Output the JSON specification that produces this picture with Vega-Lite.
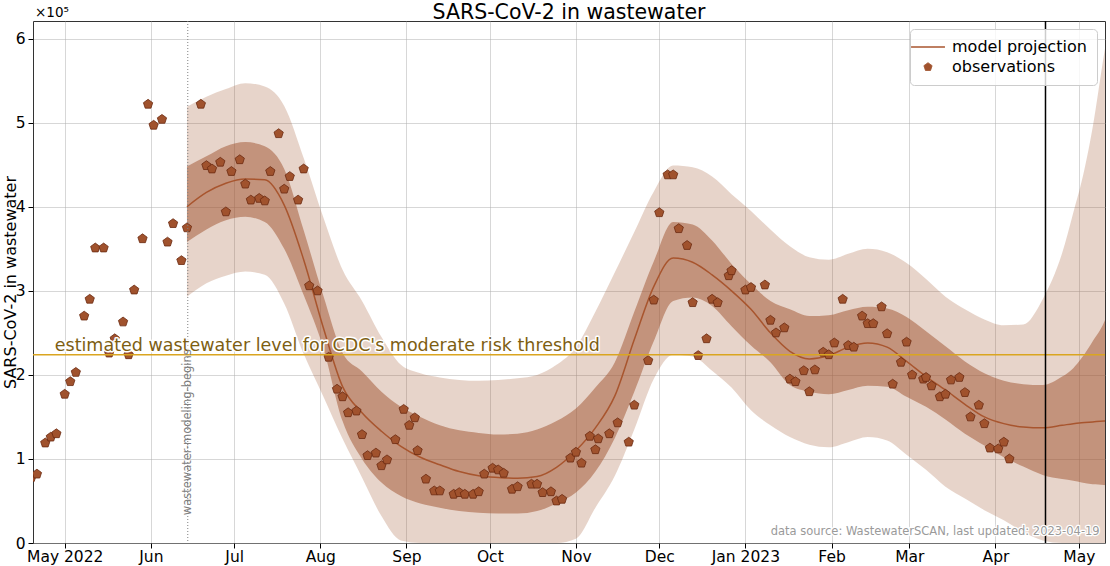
{
  "$schema": "https://vega.github.io/schema/vega-lite/v6.json",
  "width": 1072,
  "height": 522,
  "autosize": {"type": "none"},
  "padding": {"left": 33, "top": 21, "right": 5, "bottom": 23},
  "datasets": {
    "obs": [
      {"date": "2022-04-19", "v": 0.78}, {"date": "2022-04-21", "v": 0.82}, {"date": "2022-04-24", "v": 1.19}, {"date": "2022-04-26", "v": 1.26},
      {"date": "2022-04-28", "v": 1.30}, {"date": "2022-05-01", "v": 1.77}, {"date": "2022-05-03", "v": 1.92}, {"date": "2022-05-05", "v": 2.03},
      {"date": "2022-05-08", "v": 2.70}, {"date": "2022-05-10", "v": 2.90}, {"date": "2022-05-12", "v": 3.51}, {"date": "2022-05-15", "v": 3.51},
      {"date": "2022-05-17", "v": 2.26}, {"date": "2022-05-19", "v": 2.43}, {"date": "2022-05-22", "v": 2.63}, {"date": "2022-05-24", "v": 2.24},
      {"date": "2022-05-26", "v": 3.01}, {"date": "2022-05-29", "v": 3.62}, {"date": "2022-05-31", "v": 5.22}, {"date": "2022-06-02", "v": 4.97},
      {"date": "2022-06-05", "v": 5.04}, {"date": "2022-06-07", "v": 3.58}, {"date": "2022-06-09", "v": 3.80}, {"date": "2022-06-12", "v": 3.36},
      {"date": "2022-06-14", "v": 3.75}, {"date": "2022-06-19", "v": 5.22}, {"date": "2022-06-21", "v": 4.49}, {"date": "2022-06-23", "v": 4.45},
      {"date": "2022-06-26", "v": 4.53}, {"date": "2022-06-28", "v": 3.94}, {"date": "2022-06-30", "v": 4.42}, {"date": "2022-07-03", "v": 4.56},
      {"date": "2022-07-05", "v": 4.27}, {"date": "2022-07-07", "v": 4.08}, {"date": "2022-07-10", "v": 4.10}, {"date": "2022-07-12", "v": 4.07},
      {"date": "2022-07-14", "v": 4.42}, {"date": "2022-07-17", "v": 4.87}, {"date": "2022-07-19", "v": 4.21}, {"date": "2022-07-21", "v": 4.36},
      {"date": "2022-07-24", "v": 4.08}, {"date": "2022-07-26", "v": 4.45}, {"date": "2022-07-28", "v": 3.06}, {"date": "2022-07-31", "v": 3.00},
      {"date": "2022-08-04", "v": 2.21}, {"date": "2022-08-07", "v": 1.83}, {"date": "2022-08-09", "v": 1.74}, {"date": "2022-08-11", "v": 1.55},
      {"date": "2022-08-14", "v": 1.57}, {"date": "2022-08-16", "v": 1.29}, {"date": "2022-08-18", "v": 1.04}, {"date": "2022-08-21", "v": 1.07},
      {"date": "2022-08-23", "v": 0.92}, {"date": "2022-08-25", "v": 0.99}, {"date": "2022-08-28", "v": 1.23}, {"date": "2022-08-31", "v": 1.59},
      {"date": "2022-09-02", "v": 1.40}, {"date": "2022-09-04", "v": 1.49}, {"date": "2022-09-05", "v": 1.10}, {"date": "2022-09-08", "v": 0.76},
      {"date": "2022-09-11", "v": 0.62}, {"date": "2022-09-13", "v": 0.62}, {"date": "2022-09-18", "v": 0.58}, {"date": "2022-09-20", "v": 0.60},
      {"date": "2022-09-22", "v": 0.58}, {"date": "2022-09-25", "v": 0.58}, {"date": "2022-09-27", "v": 0.61}, {"date": "2022-09-29", "v": 0.82},
      {"date": "2022-10-02", "v": 0.89}, {"date": "2022-10-04", "v": 0.87}, {"date": "2022-10-06", "v": 0.83}, {"date": "2022-10-09", "v": 0.64},
      {"date": "2022-10-11", "v": 0.67}, {"date": "2022-10-16", "v": 0.70}, {"date": "2022-10-18", "v": 0.70}, {"date": "2022-10-20", "v": 0.60},
      {"date": "2022-10-23", "v": 0.61}, {"date": "2022-10-25", "v": 0.50}, {"date": "2022-10-27", "v": 0.52}, {"date": "2022-10-30", "v": 1.01},
      {"date": "2022-11-01", "v": 1.08}, {"date": "2022-11-03", "v": 0.95}, {"date": "2022-11-06", "v": 1.27}, {"date": "2022-11-08", "v": 1.11},
      {"date": "2022-11-09", "v": 1.24}, {"date": "2022-11-13", "v": 1.30}, {"date": "2022-11-16", "v": 1.43}, {"date": "2022-11-20", "v": 1.20},
      {"date": "2022-11-22", "v": 1.64}, {"date": "2022-11-27", "v": 2.17}, {"date": "2022-11-29", "v": 2.89}, {"date": "2022-12-01", "v": 3.93},
      {"date": "2022-12-04", "v": 4.38}, {"date": "2022-12-06", "v": 4.38}, {"date": "2022-12-08", "v": 3.74}, {"date": "2022-12-11", "v": 3.54},
      {"date": "2022-12-13", "v": 2.86}, {"date": "2022-12-15", "v": 2.23}, {"date": "2022-12-18", "v": 2.43}, {"date": "2022-12-20", "v": 2.90},
      {"date": "2022-12-22", "v": 2.86}, {"date": "2022-12-26", "v": 3.18}, {"date": "2022-12-27", "v": 3.24}, {"date": "2023-01-01", "v": 3.01},
      {"date": "2023-01-03", "v": 3.04}, {"date": "2023-01-08", "v": 3.07}, {"date": "2023-01-10", "v": 2.65}, {"date": "2023-01-12", "v": 2.50},
      {"date": "2023-01-15", "v": 2.56}, {"date": "2023-01-17", "v": 1.95}, {"date": "2023-01-19", "v": 1.92}, {"date": "2023-01-22", "v": 2.05},
      {"date": "2023-01-24", "v": 1.80}, {"date": "2023-01-26", "v": 2.06}, {"date": "2023-01-29", "v": 2.27}, {"date": "2023-01-31", "v": 2.24},
      {"date": "2023-02-02", "v": 2.38}, {"date": "2023-02-05", "v": 2.90}, {"date": "2023-02-07", "v": 2.35}, {"date": "2023-02-09", "v": 2.33},
      {"date": "2023-02-12", "v": 2.70}, {"date": "2023-02-14", "v": 2.61}, {"date": "2023-02-16", "v": 2.61}, {"date": "2023-02-19", "v": 2.81},
      {"date": "2023-02-21", "v": 2.49}, {"date": "2023-02-23", "v": 1.89}, {"date": "2023-02-26", "v": 2.15}, {"date": "2023-02-28", "v": 2.39},
      {"date": "2023-03-02", "v": 2.00}, {"date": "2023-03-06", "v": 1.95}, {"date": "2023-03-07", "v": 1.97}, {"date": "2023-03-09", "v": 1.87},
      {"date": "2023-03-12", "v": 1.74}, {"date": "2023-03-14", "v": 1.77}, {"date": "2023-03-16", "v": 1.94}, {"date": "2023-03-19", "v": 1.97},
      {"date": "2023-03-21", "v": 1.79}, {"date": "2023-03-23", "v": 1.50}, {"date": "2023-03-26", "v": 1.64}, {"date": "2023-03-28", "v": 1.42},
      {"date": "2023-03-30", "v": 1.13}, {"date": "2023-04-02", "v": 1.12}, {"date": "2023-04-04", "v": 1.20}, {"date": "2023-04-06", "v": 1.00}
    ],
    "model": [
      {"date": "2022-06-14", "lo90": 2.93, "lo50": 3.58, "median": 4.00, "hi50": 4.48, "hi90": 5.19},
      {"date": "2022-06-21", "lo90": 3.09, "lo50": 3.73, "median": 4.17, "hi50": 4.60, "hi90": 5.31},
      {"date": "2022-06-28", "lo90": 3.18, "lo50": 3.84, "median": 4.28, "hi50": 4.72, "hi90": 5.40},
      {"date": "2022-07-05", "lo90": 3.23, "lo50": 3.88, "median": 4.33, "hi50": 4.77, "hi90": 5.47},
      {"date": "2022-07-12", "lo90": 3.19, "lo50": 3.82, "median": 4.32, "hi50": 4.72, "hi90": 5.43},
      {"date": "2022-07-19", "lo90": 2.85, "lo50": 3.50, "median": 4.02, "hi50": 4.45, "hi90": 5.20},
      {"date": "2022-07-26", "lo90": 2.25, "lo50": 2.95, "median": 3.37, "hi50": 3.72, "hi90": 4.58},
      {"date": "2022-08-02", "lo90": 1.75, "lo50": 2.33, "median": 2.57, "hi50": 2.95, "hi90": 3.88},
      {"date": "2022-08-09", "lo90": 1.24, "lo50": 1.45, "median": 1.86, "hi50": 2.26, "hi90": 3.25},
      {"date": "2022-08-16", "lo90": 0.78, "lo50": 1.00, "median": 1.55, "hi50": 2.04, "hi90": 2.88},
      {"date": "2022-08-23", "lo90": 0.32, "lo50": 0.72, "median": 1.33, "hi50": 1.80, "hi90": 2.45},
      {"date": "2022-08-30", "lo90": 0.03, "lo50": 0.56, "median": 1.15, "hi50": 1.62, "hi90": 2.12},
      {"date": "2022-09-06", "lo90": 0, "lo50": 0.47, "median": 1.02, "hi50": 1.50, "hi90": 2.02},
      {"date": "2022-09-13", "lo90": 0, "lo50": 0.42, "median": 0.93, "hi50": 1.40, "hi90": 1.97},
      {"date": "2022-09-20", "lo90": 0, "lo50": 0.38, "median": 0.85, "hi50": 1.34, "hi90": 1.94},
      {"date": "2022-09-27", "lo90": 0, "lo50": 0.36, "median": 0.80, "hi50": 1.31, "hi90": 1.93},
      {"date": "2022-10-04", "lo90": 0, "lo50": 0.35, "median": 0.78, "hi50": 1.29, "hi90": 1.94},
      {"date": "2022-10-11", "lo90": 0, "lo50": 0.35, "median": 0.77, "hi50": 1.30, "hi90": 1.96},
      {"date": "2022-10-18", "lo90": 0, "lo50": 0.38, "median": 0.79, "hi50": 1.35, "hi90": 2.00},
      {"date": "2022-10-25", "lo90": 0, "lo50": 0.47, "median": 0.90, "hi50": 1.45, "hi90": 2.12},
      {"date": "2022-11-01", "lo90": 0.05, "lo50": 0.60, "median": 1.10, "hi50": 1.60, "hi90": 2.33},
      {"date": "2022-11-08", "lo90": 0.42, "lo50": 0.85, "median": 1.37, "hi50": 1.85, "hi90": 2.75},
      {"date": "2022-11-15", "lo90": 0.80, "lo50": 1.25, "median": 1.75, "hi50": 2.15, "hi90": 3.22},
      {"date": "2022-11-22", "lo90": 1.35, "lo50": 1.80, "median": 2.42, "hi50": 2.75, "hi90": 3.70},
      {"date": "2022-11-29", "lo90": 1.95, "lo50": 2.40, "median": 3.05, "hi50": 3.35, "hi90": 4.18},
      {"date": "2022-12-06", "lo90": 2.24, "lo50": 2.88, "median": 3.39, "hi50": 3.82, "hi90": 4.49},
      {"date": "2022-12-13", "lo90": 2.22, "lo50": 2.92, "median": 3.34, "hi50": 3.79, "hi90": 4.47},
      {"date": "2022-12-20", "lo90": 2.05, "lo50": 2.82, "median": 3.19, "hi50": 3.60, "hi90": 4.36},
      {"date": "2022-12-27", "lo90": 1.85, "lo50": 2.58, "median": 3.00, "hi50": 3.32, "hi90": 4.15},
      {"date": "2023-01-03", "lo90": 1.58, "lo50": 2.35, "median": 2.78, "hi50": 3.08, "hi90": 3.95},
      {"date": "2023-01-10", "lo90": 1.40, "lo50": 2.15, "median": 2.50, "hi50": 2.88, "hi90": 3.73},
      {"date": "2023-01-17", "lo90": 1.26, "lo50": 1.88, "median": 2.28, "hi50": 2.78, "hi90": 3.53},
      {"date": "2023-01-24", "lo90": 1.17, "lo50": 1.80, "median": 2.19, "hi50": 2.70, "hi90": 3.40},
      {"date": "2023-01-31", "lo90": 1.14, "lo50": 1.77, "median": 2.23, "hi50": 2.71, "hi90": 3.37},
      {"date": "2023-02-07", "lo90": 1.20, "lo50": 1.82, "median": 2.33, "hi50": 2.77, "hi90": 3.44},
      {"date": "2023-02-14", "lo90": 1.26, "lo50": 1.87, "median": 2.38, "hi50": 2.81, "hi90": 3.50},
      {"date": "2023-02-21", "lo90": 1.22, "lo50": 1.86, "median": 2.33, "hi50": 2.79, "hi90": 3.46},
      {"date": "2023-02-28", "lo90": 1.05, "lo50": 1.74, "median": 2.16, "hi50": 2.69, "hi90": 3.33},
      {"date": "2023-03-07", "lo90": 0.87, "lo50": 1.62, "median": 1.98, "hi50": 2.52, "hi90": 3.14},
      {"date": "2023-03-14", "lo90": 0.67, "lo50": 1.47, "median": 1.82, "hi50": 2.34, "hi90": 2.93},
      {"date": "2023-03-21", "lo90": 0.53, "lo50": 1.30, "median": 1.65, "hi50": 2.16, "hi90": 2.78},
      {"date": "2023-03-28", "lo90": 0.39, "lo50": 1.16, "median": 1.50, "hi50": 2.02, "hi90": 2.66},
      {"date": "2023-04-04", "lo90": 0.27, "lo50": 1.02, "median": 1.42, "hi50": 1.93, "hi90": 2.59},
      {"date": "2023-04-11", "lo90": 0.13, "lo50": 0.91, "median": 1.38, "hi50": 1.89, "hi90": 2.60},
      {"date": "2023-04-18", "lo90": 0.03, "lo50": 0.81, "median": 1.37, "hi50": 1.88, "hi90": 2.90},
      {"date": "2023-04-25", "lo90": 0, "lo50": 0.76, "median": 1.40, "hi50": 1.98, "hi90": 3.45},
      {"date": "2023-04-29", "lo90": 0, "lo50": 0.74, "median": 1.42, "hi50": 2.08, "hi90": 3.93},
      {"date": "2023-05-02", "lo90": 0, "lo50": 0.72, "median": 1.43, "hi50": 2.20, "hi90": 4.30},
      {"date": "2023-05-06", "lo90": 0, "lo50": 0.70, "median": 1.44, "hi50": 2.40, "hi90": 4.95},
      {"date": "2023-05-10", "lo90": 0, "lo50": 0.69, "median": 1.45, "hi50": 2.62, "hi90": 5.80},
      {"date": "2023-05-11", "lo90": 0, "lo50": 0.68, "median": 1.45, "hi50": 2.70, "hi90": 6.00}
    ]
  },
  "layer": [
    {
      "data": {"name": "model"},
      "mark": {"type": "area", "interpolate": "monotone", "color": "#a0522d", "fillOpacity": 0.25, "clip": true},
      "encoding": {
        "x": {"field": "date", "type": "temporal", "title": null,
          "scale": {"domain": [{"year": 2022, "month": 4, "date": 19, "hours": 14}, {"year": 2023, "month": 5, "date": 10, "hours": 10}]},
          "axis": {
            "values": [
              {"year": 2022, "month": 5, "date": 1}, {"year": 2022, "month": 6, "date": 1}, {"year": 2022, "month": 7, "date": 1},
              {"year": 2022, "month": 8, "date": 1}, {"year": 2022, "month": 9, "date": 1}, {"year": 2022, "month": 10, "date": 1},
              {"year": 2022, "month": 11, "date": 1}, {"year": 2022, "month": 12, "date": 1}, {"year": 2023, "month": 1, "date": 1},
              {"year": 2023, "month": 2, "date": 1}, {"year": 2023, "month": 3, "date": 1}, {"year": 2023, "month": 4, "date": 1},
              {"year": 2023, "month": 5, "date": 1}
            ],
            "labelExpr": "(month(datum.value) == 0 || (month(datum.value) == 4 && year(datum.value) == 2022)) ? timeFormat(datum.value, '%b %Y') : timeFormat(datum.value, '%b')",
            "labelPadding": 1
          }
        },
        "y": {"field": "lo90", "type": "quantitative", "title": "SARS-CoV-2 in wastewater",
          "scale": {"domain": [0, 6.21], "nice": false, "zero": false},
          "axis": {"values": [0, 1, 2, 3, 4, 5, 6], "format": "d", "labelPadding": 3, "titlePadding": -3}
        },
        "y2": {"field": "hi90"}
      }
    },
    {
      "data": {"name": "model"},
      "mark": {"type": "area", "interpolate": "monotone", "color": "#a0522d", "fillOpacity": 0.5, "clip": true},
      "encoding": {
        "x": {"field": "date", "type": "temporal", "title": null},
        "y": {"field": "lo50", "type": "quantitative", "title": "SARS-CoV-2 in wastewater"},
        "y2": {"field": "hi50"}
      }
    },
    {
      "data": {"name": "model"},
      "mark": {"type": "line", "interpolate": "monotone", "strokeWidth": 1.5, "clip": true},
      "encoding": {
        "x": {"field": "date", "type": "temporal", "title": null},
        "y": {"field": "median", "type": "quantitative", "title": "SARS-CoV-2 in wastewater"},
        "color": {"datum": "model projection", "type": "nominal",
          "scale": {"domain": ["model projection", "observations"], "range": ["#a8552e", "#a0522d"]},
          "legend": {
            "title": null,
            "encode": {
              "symbols": {
                "update": {
                  "shape": {"signal": "datum.value === 'observations' ? 'M0,-1L0.951,-0.309L0.588,0.809L-0.588,0.809L-0.951,-0.309Z' : 'stroke'"},
                  "size": {"signal": "datum.value === 'observations' ? 75 : 1150"},
                  "fill": {"signal": "datum.value === 'observations' ? '#a0522d' : 'transparent'"},
                  "stroke": {"signal": "datum.value === 'observations' ? '#6b2a10' : '#a8552e'"},
                  "strokeWidth": {"signal": "datum.value === 'observations' ? 0.8 : 1.5"},
                  "opacity": {"value": 1}
                }
              }
            }
          }
        }
      }
    },
    {
      "data": {"name": "obs"},
      "mark": {"type": "point", "filled": true, "shape": "M0,-1L0.951,-0.309L0.588,0.809L-0.588,0.809L-0.951,-0.309Z", "size": 95, "stroke": "#6b2a10", "strokeWidth": 0.8, "opacity": 1, "clip": true},
      "encoding": {
        "x": {"field": "date", "type": "temporal", "title": null},
        "y": {"field": "v", "type": "quantitative", "title": "SARS-CoV-2 in wastewater"},
        "color": {"datum": "observations", "type": "nominal",
          "legend": {
            "title": null,
            "encode": {
              "symbols": {
                "update": {
                  "shape": {"signal": "datum.value === 'observations' ? 'M0,-1L0.951,-0.309L0.588,0.809L-0.588,0.809L-0.951,-0.309Z' : 'stroke'"},
                  "size": {"signal": "datum.value === 'observations' ? 75 : 1150"},
                  "fill": {"signal": "datum.value === 'observations' ? '#a0522d' : 'transparent'"},
                  "stroke": {"signal": "datum.value === 'observations' ? '#6b2a10' : '#a8552e'"},
                  "strokeWidth": {"signal": "datum.value === 'observations' ? 0.8 : 1.5"},
                  "opacity": {"value": 1}
                }
              }
            }
          }
        }
      }
    },
    {
      "data": {"values": [{}]},
      "mark": {"type": "rule", "color": "#808080", "strokeDash": [1, 2], "strokeWidth": 1},
      "encoding": {"x": {"datum": {"year": 2022, "month": 6, "date": 14, "hours": 7}, "type": "temporal"}}
    },
    {
      "data": {"values": [{}]},
      "mark": {"type": "rule", "color": "#daa520", "strokeWidth": 1.5},
      "encoding": {"y": {"datum": 2.24, "type": "quantitative"}}
    },
    {
      "data": {"values": [{}]},
      "mark": {"type": "rule", "color": "black", "strokeWidth": 1.5},
      "encoding": {"x": {"datum": {"year": 2023, "month": 4, "date": 19}, "type": "temporal"}}
    },
    {
      "data": {"values": [{}]},
      "mark": {"type": "text", "align": "left", "baseline": "alphabetic", "dy": -4, "fontSize": 17.5, "font": "DejaVu Sans", "stroke": "white", "strokeWidth": 3, "fill": "white", "strokeJoin": "round"},
      "encoding": {
        "x": {"datum": {"year": 2022, "month": 4, "date": 27, "hours": 10}, "type": "temporal"},
        "y": {"datum": 2.24, "type": "quantitative"},
        "text": {"value": "estimated wastewater level for CDC's moderate risk threshold"}
      }
    },
    {
      "data": {"values": [{}]},
      "mark": {"type": "text", "align": "left", "baseline": "alphabetic", "dy": -4, "fontSize": 17.5, "font": "DejaVu Sans", "color": "#7d5e12"},
      "encoding": {
        "x": {"datum": {"year": 2022, "month": 4, "date": 27, "hours": 10}, "type": "temporal"},
        "y": {"datum": 2.24, "type": "quantitative"},
        "text": {"value": "estimated wastewater level for CDC's moderate risk threshold"}
      }
    },
    {
      "data": {"values": [{}]},
      "mark": {"type": "text", "align": "left", "baseline": "middle", "angle": 270, "fontSize": 11.5, "font": "DejaVu Sans", "color": "#808080"},
      "encoding": {
        "x": {"datum": {"year": 2022, "month": 6, "date": 14, "hours": 7}, "type": "temporal"},
        "y": {"datum": 0.33, "type": "quantitative"},
        "text": {"value": "wastewater-modeling-begins"}
      }
    },
    {
      "data": {"values": [{}]},
      "mark": {"type": "text", "align": "right", "baseline": "alphabetic", "fontSize": 11.5, "font": "DejaVu Sans", "stroke": "white", "strokeWidth": 2.5, "fill": "white", "strokeJoin": "round"},
      "encoding": {
        "x": {"datum": {"year": 2023, "month": 5, "date": 8, "hours": 12}, "type": "temporal"},
        "y": {"datum": 0.09, "type": "quantitative"},
        "text": {"value": "data source: WastewaterSCAN, last updated: 2023-04-19"}
      }
    },
    {
      "data": {"values": [{}]},
      "mark": {"type": "text", "align": "right", "baseline": "alphabetic", "fontSize": 11.5, "font": "DejaVu Sans", "color": "#9a9a9a"},
      "encoding": {
        "x": {"datum": {"year": 2023, "month": 5, "date": 8, "hours": 12}, "type": "temporal"},
        "y": {"datum": 0.09, "type": "quantitative"},
        "text": {"value": "data source: WastewaterSCAN, last updated: 2023-04-19"}
      }
    },
    {
      "data": {"values": [{}]},
      "mark": {"type": "text", "align": "left", "baseline": "alphabetic", "dx": 2, "dy": -4, "fontSize": 13.5, "font": "DejaVu Sans", "color": "black"},
      "encoding": {
        "x": {"datum": {"year": 2022, "month": 4, "date": 19, "hours": 14}, "type": "temporal"},
        "y": {"datum": 6.21, "type": "quantitative"},
        "text": {"value": "×10⁵"}
      }
    },
    {
      "data": {"values": [{}]},
      "mark": {"type": "text", "align": "center", "baseline": "alphabetic", "dy": -2, "fontSize": 20.5, "font": "DejaVu Sans", "color": "black"},
      "encoding": {
        "x": {"datum": {"year": 2022, "month": 10, "date": 29, "hours": 12}, "type": "temporal"},
        "y": {"datum": 6.21, "type": "quantitative"},
        "text": {"value": "SARS-CoV-2 in wastewater"}
      }
    }
  ],
  "config": {
    "font": "DejaVu Sans",
    "view": {"stroke": "#333333", "strokeWidth": 1},
    "axis": {
      "labelFont": "DejaVu Sans", "titleFont": "DejaVu Sans", "labelColor": "black", "titleColor": "black",
      "tickColor": "black", "tickSize": 5, "domain": false, "grid": true, "gridColor": "#b0b0b0", "gridOpacity": 0.5, "gridWidth": 1,
      "labelFontSize": 15.5, "titleFontSize": 16, "titleFontWeight": "normal", "zindex": 1
    },
    "legend": {
      "orient": "top-right", "offset": 8, "labelFontSize": 16, "labelFont": "DejaVu Sans", "labelColor": "black",
      "fillColor": "rgba(255,255,255,0.8)", "strokeColor": "#cccccc", "cornerRadius": 4, "padding": 10,
      "rowPadding": 4, "labelOffset": 16, "symbolSize": 1150, "symbolType": "circle"
    }
  }
}
